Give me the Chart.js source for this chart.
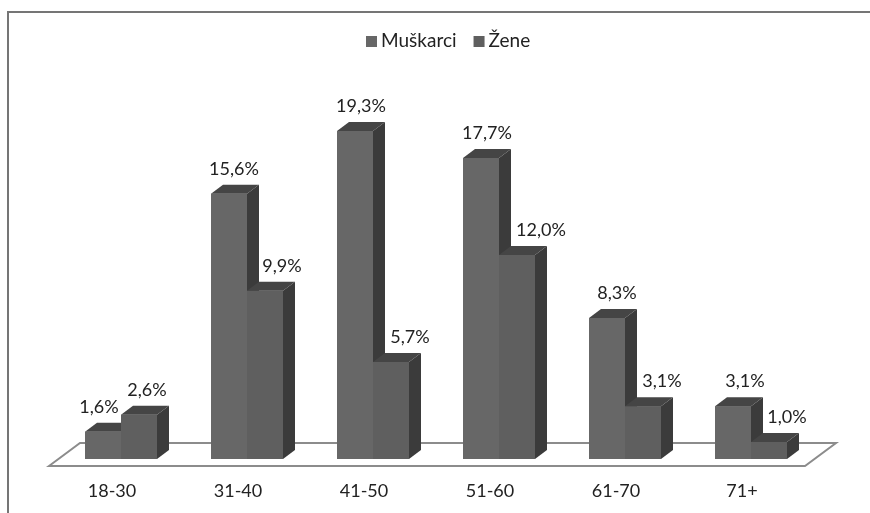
<!DOCTYPE html>
<html>
<head>
<meta charset="utf-8">
<style>
  html, body { margin: 0; padding: 0; background: #fff; }
  #wrap { position: relative; width: 870px; height: 513px; overflow: hidden; }
  #frame { position: absolute; left: 7px; top: 11px; width: 863px; height: 502px;
    border-left: 2px solid #757575; border-top: 2px solid #757575; box-sizing: border-box; }
  canvas { position: absolute; left: 0; top: 0; }
</style>
<script src="https://cdn.jsdelivr.net/npm/chart.js@4/dist/chart.umd.min.js"></script>
</head>
<body>
<div id="wrap">
  <div id="frame"></div>
  <canvas id="ageChart" width="870" height="513"></canvas>
</div>
<script>
var categories = ["18-30", "31-40", "41-50", "51-60", "61-70", "71+"];
var muskarci = [1.6, 15.6, 19.3, 17.7, 8.3, 3.1];
var zene = [2.6, 9.9, 5.7, 12.0, 3.1, 1.0];

// how far each value label sits right of its bar centre
var shiftMuskarci = [-4, 5, 6, 6, 10, 12];
var shiftZene = [8, 17, 19, 24, 19, 18];

var depthX = 12;
var depthY = 9;
var textFont = "18px Lato";
var legendFont = "19px Lato";

// Floor, drawn behind the bars
var floorPlugin = {
  id: "floor",
  beforeDatasetsDraw: function (chart) {
    var ctx = chart.ctx;
    var a = chart.chartArea;
    ctx.save();
    ctx.strokeStyle = "#8c8c8c";
    ctx.lineWidth = 2;
    ctx.beginPath();
    ctx.moveTo(a.left - 9, a.bottom + 7);
    ctx.lineTo(a.left + 22, a.bottom - 16);
    ctx.lineTo(a.right + 22, a.bottom - 16);
    ctx.lineTo(a.right - 9, a.bottom + 7);
    ctx.closePath();
    ctx.stroke();
    ctx.restore();
  }
};

// Side and top faces of each bar, then the value labels
var boxPlugin = {
  id: "box",
  afterDatasetsDraw: function (chart) {
    var ctx = chart.ctx;
    categories.forEach(function (c, i) {
      [0, 1].forEach(function (d) {
        var bar = chart.getDatasetMeta(d).data[i];
        var left = bar.x - bar.width / 2;
        var right = bar.x + bar.width / 2;
        ctx.fillStyle = "#3b3b3b";
        ctx.beginPath();
        ctx.moveTo(right, bar.y);
        ctx.lineTo(right + depthX, bar.y - depthY);
        ctx.lineTo(right + depthX, bar.base - depthY);
        ctx.lineTo(right, bar.base);
        ctx.closePath();
        ctx.fill();
        ctx.fillStyle = "#454545";
        ctx.beginPath();
        ctx.moveTo(left, bar.y);
        ctx.lineTo(left + depthX, bar.y - depthY);
        ctx.lineTo(right + depthX, bar.y - depthY);
        ctx.lineTo(right, bar.y);
        ctx.closePath();
        ctx.fill();
        bar.draw(ctx);
      });
    });
    ctx.save();
    ctx.font = textFont;
    ctx.fillStyle = "#222";
    ctx.textAlign = "center";
    ctx.textBaseline = "middle";
    var shifts = [shiftMuskarci, shiftZene];
    chart.data.datasets.forEach(function (ds, d) {
      chart.getDatasetMeta(d).data.forEach(function (bar, i) {
        var txt = ds.data[i].toFixed(1).replace(".", ",") + "%";
        ctx.fillText(txt, bar.x + shifts[d][i], bar.y - 25);
      });
    });
    ctx.restore();
  }
};

// Legend with tight gaps, the built in one ties them to the font size
var legendPlugin = {
  id: "tightLegend",
  afterDraw: function (chart) {
    var ctx = chart.ctx;
    var x = 366;
    ctx.save();
    ctx.font = legendFont;
    ctx.textBaseline = "middle";
    chart.data.datasets.forEach(function (ds) {
      ctx.fillStyle = ds.backgroundColor;
      ctx.fillRect(x, 36, 11, 11);
      ctx.fillStyle = "#222";
      ctx.fillText(ds.label, x + 15, 41);
      x += 15 + ctx.measureText(ds.label).width + 17;
    });
    ctx.restore();
  }
};

var ctxAge = document.getElementById("ageChart").getContext("2d");
var ageChart = new Chart(ctxAge, {
  type: "bar",
  data: {
    labels: categories,
    datasets: [
      { label: "Muškarci", data: muskarci, backgroundColor: "#676767" },
      { label: "Žene", data: zene, backgroundColor: "#5f5f5f" }
    ]
  },
  plugins: [floorPlugin, boxPlugin, legendPlugin],
  options: {
    responsive: false,
    animation: false,
    categoryPercentage: 72 / 126,
    barPercentage: 1,
    layout: { padding: { left: 58, right: 56, top: 85, bottom: 0 } },
    plugins: {
      tooltip: { enabled: false },
      legend: { display: false }
    },
    scales: {
      x: {
        grid: { display: false },
        border: { display: false },
        ticks: { color: "#222", padding: 13, labelOffset: -9, maxRotation: 0, font: { family: "Lato", size: 18 } },
        afterFit: function (scale) { scale.height = 54; }
      },
      y: { display: false, min: 0, max: 22 }
    }
  }
});
</script>
</body>
</html>
